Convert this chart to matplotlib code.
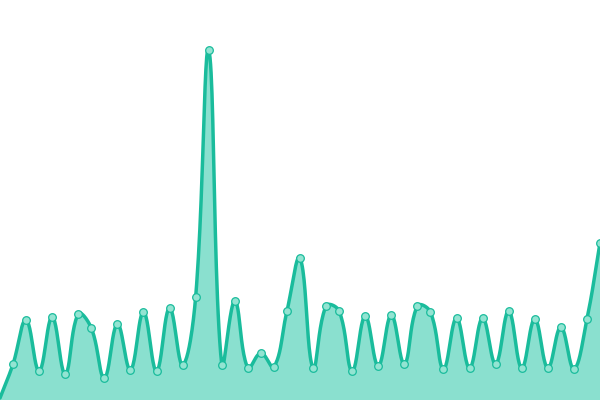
import numpy as np
import matplotlib
matplotlib.use("Agg")
import matplotlib.pyplot as plt

# values (0 = bottom edge)
values = [2, 36, 80, 29, 83, 26, 86, 72, 22, 76, 30, 88, 29, 92, 35, 103,
          350, 35, 99, 32, 47, 33, 89, 142, 32, 94, 89, 29, 84, 34, 85, 36,
          94, 88, 31, 82, 32, 82, 36, 89, 32, 81, 32, 73, 31, 81, 157]
idx = np.arange(len(values))

LINE = "#1abc9c"
FILL = "#8ae0cf"
W, H = 600, 400
TENSION = 0.4


def spline(xs, ys, n=24):
    # cardinal-style bezier smoothing in pixel space (tension 0.4)
    px = np.asarray(xs, float) * W / (len(xs) - 1)
    py = np.asarray(ys, float)
    pts = np.column_stack([px, py])
    N = len(pts)
    cin = pts.copy()
    cout = pts.copy()
    for k in range(N):
        prev = pts[max(k - 1, 0)]
        cur = pts[k]
        nxt = pts[min(k + 1, N - 1)]
        d01 = np.hypot(*(cur - prev))
        d12 = np.hypot(*(nxt - cur))
        tot = d01 + d12
        s01 = d01 / tot if tot else 0
        s12 = d12 / tot if tot else 0
        cin[k] = cur - TENSION * s01 * (nxt - prev)
        cout[k] = cur + TENSION * s12 * (nxt - prev)
    cin[:, 1] = np.clip(cin[:, 1], 0, H)
    cout[:, 1] = np.clip(cout[:, 1], 0, H)
    outx, outy = [], []
    t = np.linspace(0, 1, n, endpoint=False)[:, None]
    for k in range(N - 1):
        p0, p1, p2, p3 = pts[k], cout[k], cin[k + 1], pts[k + 1]
        b = ((1 - t) ** 3) * p0 + 3 * ((1 - t) ** 2) * t * p1 + 3 * (1 - t) * t ** 2 * p2 + t ** 3 * p3
        outx.append(b[:, 0])
        outy.append(b[:, 1])
    outx.append([pts[-1, 0]])
    outy.append([pts[-1, 1]])
    return np.concatenate(outx) * (len(xs) - 1) / W, np.concatenate(outy)


sx, sy = spline(idx, values)

fig = plt.figure(figsize=(6, 4), dpi=100)
ax = fig.add_axes([0, 0, 1, 1])
ax.fill_between(sx, 0, sy, color=FILL, lw=0)
ax.plot(sx, sy, color=LINE, lw=2.5, solid_capstyle="round")
ax.plot(idx[1:], values[1:], "o", ms=5.5, mfc="#93e4d2", mec=LINE, mew=0.9)
ax.set_xlim(0, len(values) - 1)
ax.set_ylim(0, 400)
ax.axis("off")
fig.savefig("out.png", dpi=100)
